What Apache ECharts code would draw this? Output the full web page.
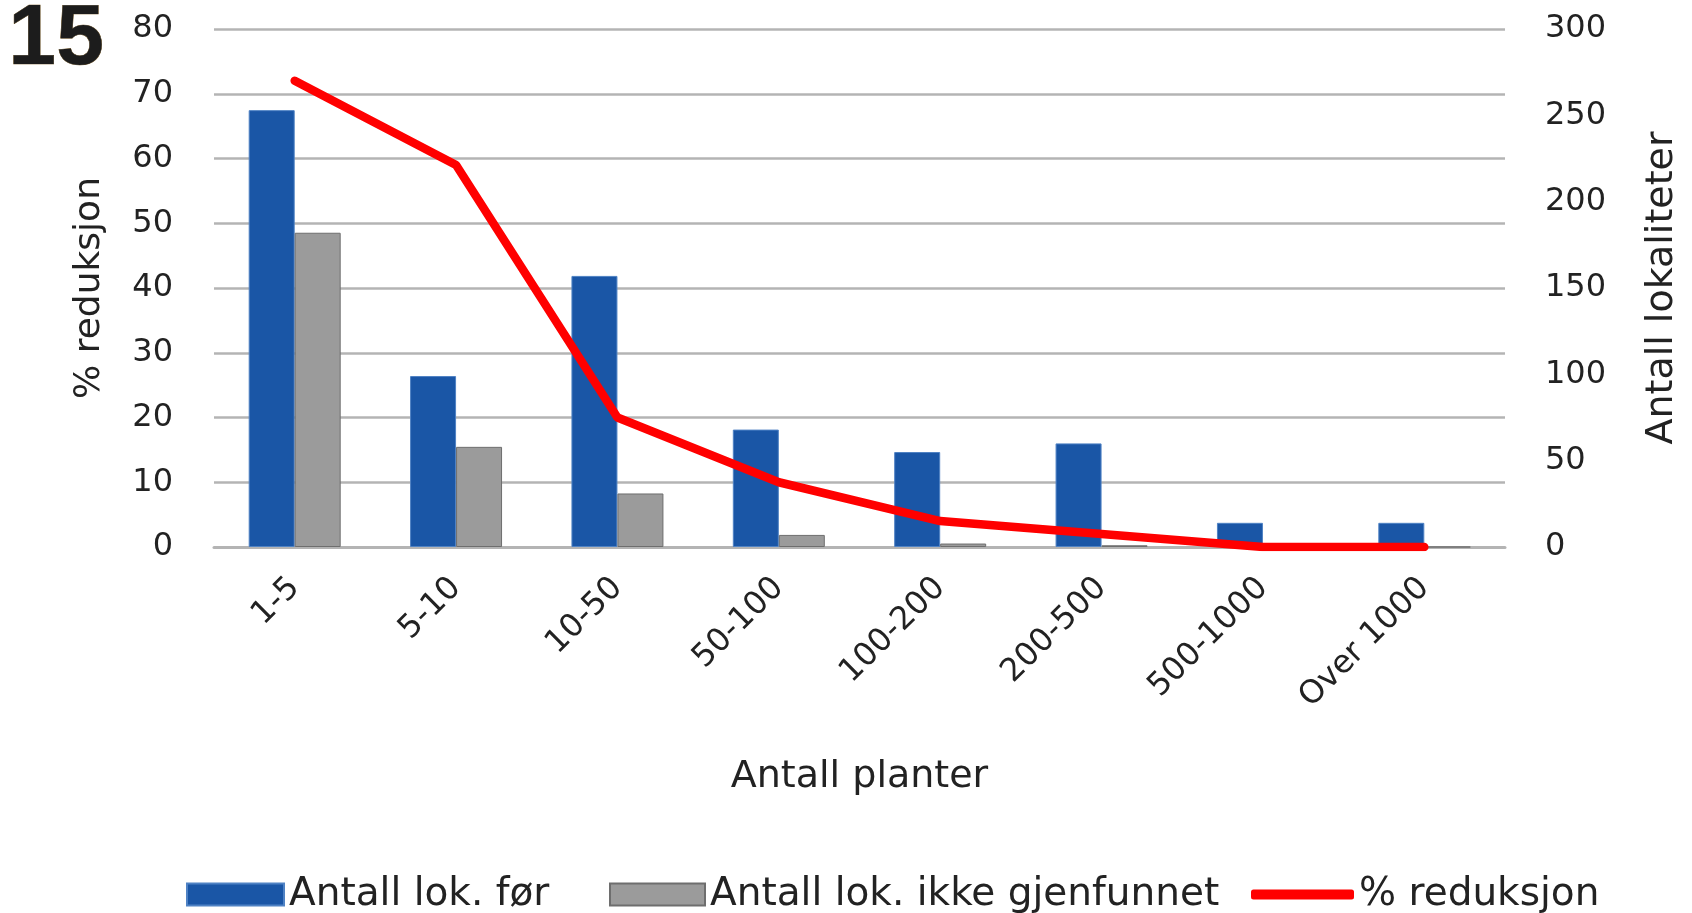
<html>
<head>
<meta charset="utf-8">
<title>Antall planter</title>
<script src="https://cdn.jsdelivr.net/npm/echarts@6/dist/echarts.min.js"></script>
<style>
  html, body { margin: 0; padding: 0; background: #fff; }
  #chartmain { width: 1692px; height: 913px; }
</style>
</head>
<body>
<div id="chartmain"></div>
<script type="text/javascript">
    // data
    var categories = ['1-5', '5-10', '10-50', '50-100', '100-200', '200-500', '500-1000', 'Over 1000'];
    var lokFor = [253, 99, 157, 68, 55, 60, 14, 14];
    var lokIkkeGjenfunnet = [182, 58, 31, 7, 2, 1, 0, 0];
    var reduksjon = [72, 59, 20, 10, 4, 2, 0, 0];

    var font = '"DejaVu Sans", "Noto Sans", sans-serif';
    var txt = '#222';
    var legendText = { fontSize: 39, color: txt, fontFamily: font };

    var myChart = echarts.init(document.getElementById('chartmain'));
    myChart.setOption({
        animation: false,
        textStyle: { fontFamily: font },
        graphic: [{
            type: 'text', left: 8, top: -3,
            style: { text: '15', font: 'bold 86px "Liberation Sans", Arial, sans-serif', fill: '#1c1c1c',
                     stroke: '#6b4a10', lineWidth: 0.6 }
        }],
        grid: { left: 214, right: 187, top: 29, bottom: 366 },
        legend: [
            { left: 181, top: 870, itemWidth: 97, itemHeight: 22, data: [{ name: 'Antall lok. før', icon: 'rect' }], textStyle: legendText },
            { left: 604, top: 870, itemWidth: 95, itemHeight: 22, data: [{ name: 'Antall lok. ikke gjenfunnet', icon: 'rect' }], textStyle: legendText },
            { left: 1246, top: 870, itemWidth: 103, itemHeight: 10, data: [{ name: '% reduksjon', icon: 'roundRect' }], textStyle: legendText }
        ],
        xAxis: {
            type: 'category',
            data: categories,
            name: 'Antall planter',
            nameLocation: 'middle',
            nameGap: 211,
            nameTextStyle: { fontSize: 38, color: txt },
            axisLine: { lineStyle: { color: '#b4b4b4', width: 3 } },
            axisTick: { show: false },
            axisLabel: { rotate: 45, fontSize: 32, color: txt, margin: 36, interval: 0 }
        },
        yAxis: [{
            type: 'value',
            min: 0, max: 80, interval: 10,
            name: '% reduksjon',
            nameLocation: 'middle',
            nameGap: 106,
            nameTextStyle: { fontSize: 36, color: txt },
            axisLabel: { fontSize: 32, color: txt, margin: 41 },
            splitLine: { lineStyle: { color: '#b4b4b4', width: 2.5 } },
            axisLine: { show: false },
            axisTick: { show: false }
        }, {
            type: 'value',
            min: 0, max: 300, interval: 50,
            name: 'Antall lokaliteter',
            nameLocation: 'middle',
            nameGap: 138,
            nameTextStyle: { fontSize: 38, color: txt },
            axisLabel: { fontSize: 32, color: txt, margin: 40 },
            splitLine: { show: false },
            axisLine: { show: false },
            axisTick: { show: false }
        }],
        series: [{
            name: 'Antall lok. før',
            type: 'bar',
            yAxisIndex: 1,
            data: lokFor,
            barGap: '0%',
            barCategoryGap: '43%',
            itemStyle: { color: '#1a56a6', borderColor: '#4f82c4', borderWidth: 1 }
        }, {
            name: 'Antall lok. ikke gjenfunnet',
            type: 'bar',
            yAxisIndex: 1,
            data: lokIkkeGjenfunnet,
            itemStyle: { color: '#9b9b9b', borderColor: '#6e6e6e', borderWidth: 1 }
        }, {
            name: '% reduksjon',
            type: 'line',
            yAxisIndex: 0,
            data: reduksjon,
            symbol: 'none',
            lineStyle: { color: '#ff0000', width: 8.5, cap: 'round' },
            itemStyle: { color: '#ff0000' },
            z: 5
        }]
    });
</script>
</body>
</html>
